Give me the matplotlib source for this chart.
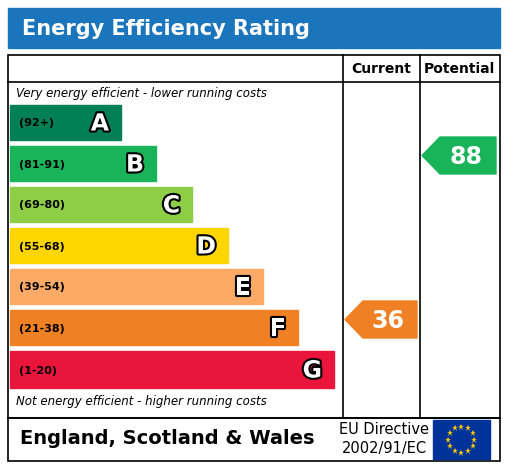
import matplotlib
matplotlib.use("Agg")
import matplotlib.pyplot as plt
from matplotlib.patches import Rectangle, Polygon
import matplotlib.patheffects as pe
import numpy as np

bands = ["A", "B", "C", "D", "E", "F", "G"]
ranges = ["(92+)", "(81-91)", "(69-80)", "(55-68)", "(39-54)", "(21-38)", "(1-20)"]
colors = ["#008054", "#19b459", "#8dce46", "#ffd500", "#fcaa65", "#ef8023", "#e9153b"]
current = 36
potential = 88
current_band = "F"
potential_band = "B"

W, H = 509, 467
fig = plt.figure(figsize=(W/100, H/100), dpi=100)
ax = fig.add_axes([0, 0, 1, 1])
ax.set_xlim(0, W); ax.set_ylim(H, 0); ax.axis("off")

ax.add_patch(Rectangle((8, 8), 492, 40, color="#1a75bc"))
ax.text(22, 29, "Energy Efficiency Rating", color="white", fontsize=15, fontweight="bold", va="center")

lw = 1.2
ax.add_patch(Rectangle((8, 55), 492, 363, fill=False, lw=lw))
ax.add_patch(Rectangle((8, 418), 492, 43, fill=False, lw=lw))
ax.plot([8, 500], [82, 82], color="black", lw=lw)
ax.plot([343, 343], [55, 418], color="black", lw=lw)
ax.plot([420, 420], [55, 418], color="black", lw=lw)
ax.text(381, 69, "Current", ha="center", va="center", fontsize=10, fontweight="bold")
ax.text(459, 69, "Potential", ha="center", va="center", fontsize=10, fontweight="bold")

ax.text(16, 94, "Very energy efficient - lower running costs", fontsize=8.5, style="italic", va="center")
ax.text(16, 402, "Not energy efficient - higher running costs", fontsize=8.5, style="italic", va="center")

tops = [105, 146, 187, 228, 269, 310, 351]
rights = [121, 156, 192, 228, 263, 298, 334]
hs = [35, 35, 35, 35, 35, 35, 37]
for b, r, c, t, rr, h in zip(bands, ranges, colors, tops, rights, hs):
    ax.add_patch(Rectangle((10, t), rr - 10, h, color=c))
    ax.text(19, t + h/2 + 1, r, fontsize=8, fontweight="bold", va="center", color="black")
    ax.text(rr - 12, t + h/2 + 1, b, fontsize=17, fontweight="bold", ha="right", va="center",
            color="white", path_effects=[pe.withStroke(linewidth=3, foreground="black")])

def val_band(v):
    lims = [92, 81, 69, 55, 39, 21, 1]
    for b, l in zip(bands, lims):
        if v >= l:
            return b
    return "G"

def arrow(x0, x1, band, value):
    i = bands.index(band)
    t, h = tops[i] - 9, 37
    c = colors[bands.index(val_band(value))]
    pts = [(x0, t + h/2), (x0 + 18, t), (x1, t), (x1, t + h), (x0 + 18, t + h)]
    ax.add_patch(Polygon(pts, color=c))
    ax.text((x0 + 18 + x1)/2 - 2, t + h/2 + 1, str(value), fontsize=17, fontweight="bold",
            ha="center", va="center", color="white")

arrow(345, 417, current_band, current)
arrow(422, 496, potential_band, potential)

ax.text(20, 439, "England, Scotland & Wales", fontsize=14, fontweight="bold", va="center")
ax.text(384, 430, "EU Directive", fontsize=10.5, ha="center", va="center")
ax.text(384, 448, "2002/91/EC", fontsize=10.5, ha="center", va="center")
ax.add_patch(Rectangle((433, 420), 57, 39, color="#003399"))
for k in range(12):
    a = 2*np.pi*k/12
    ax.plot(461.5 + 13*np.cos(a), 439.5 + 13*np.sin(a), marker="*", color="#ffcc00", ms=5, mew=0)

fig.savefig("out.png", dpi=100)
